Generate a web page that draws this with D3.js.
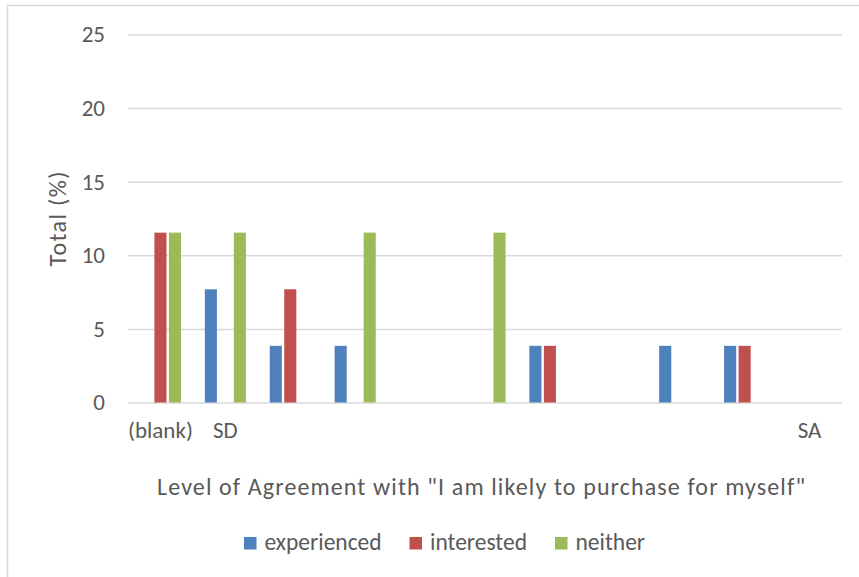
<!DOCTYPE html>
<html>
<head>
<meta charset="utf-8">
<script src="https://cdn.jsdelivr.net/npm/d3@7"></script>
<style>
  html, body { margin: 0; padding: 0; background: #fff; }
  svg { display: block; }
  text { font-family: Carlito, Calibri, Lato, "Open Sans", sans-serif; fill: #595959; }
</style>
</head>
<body>
<svg id="chart" width="859" height="577"></svg>
<script>
// Agreement levels along the x axis; only the ends carry a printed label
const tickLabels = ["(blank)", "SD", "", "", "", "", "", "", "", "", "SA"];
const seriesNames = ["experienced", "interested", "neither"];
const seriesColors = ["#4f81bd", "#c0504d", "#9bbb59"];

// Share of respondents (%) per agreement level
const experienced = [0, 7.69, 3.85, 3.85, 0, 0, 3.85, 0, 3.85, 3.85, 0];
const interested  = [11.54, 0, 7.69, 0, 0, 0, 3.85, 0, 0, 3.85, 0];
const neither     = [11.54, 11.54, 0, 11.54, 0, 11.54, 0, 0, 0, 0, 0];

const yTicks = [0, 5, 10, 15, 20, 25];

const seriesValues = [experienced, interested, neither];

const svg = d3.select("#chart");
const plot = { left: 128, right: 842, top: 34.5, bottom: 402.5 };
const fontFamily = "Carlito, Calibri, Lato, sans-serif";

// chart frame
svg.append("rect")
  .attr("x", 7.5).attr("y", 5.5)
  .attr("width", 1000).attr("height", 1000)
  .attr("fill", "none").attr("stroke", "#d9d9d9").attr("stroke-width", 1.5);

const x = d3.scaleBand()
  .domain(d3.range(tickLabels.length))
  .range([plot.left, plot.right])
  .paddingInner(0).paddingOuter(0);

const y = d3.scaleLinear().domain([0, 25]).range([plot.bottom, plot.top]);

// three bars per cluster, 14.5px apart
const xs = d3.scaleBand()
  .domain(d3.range(seriesNames.length))
  .range([0, 3 * 14.5]);

// gridlines + y tick labels
const yAxis = d3.axisLeft(y).tickValues(yTicks).tickSize(-(plot.right - plot.left)).tickPadding(23);
const gy = svg.append("g").attr("transform", `translate(${plot.left},0)`).call(yAxis);
gy.select(".domain").remove();
gy.selectAll(".tick line").attr("stroke", "#d9d9d9").attr("stroke-width", 1.5);
gy.selectAll(".tick text").attr("font-size", 23).attr("fill", "#595959")
  .style("font-family", fontFamily);

// bars
seriesValues.forEach((vals, s) => {
  svg.append("g").selectAll("rect")
    .data(vals.map((v, i) => ({ v, i })).filter(d => d.v > 0))
    .join("rect")
    .attr("x", d => x(d.i) + x.bandwidth() / 2 - 21.75 + xs(s) + 1.2)
    .attr("width", xs.bandwidth() - 2.4)
    .attr("y", d => y(d.v))
    .attr("height", d => y(0) - y(d.v))
    .attr("fill", seriesColors[s]);
});

// x axis
const xAxis = d3.axisBottom(x).tickFormat(i => tickLabels[i]).tickSize(0).tickPadding(19);
const gx = svg.append("g").attr("transform", `translate(0,${plot.bottom})`).call(xAxis);
gx.select(".domain").remove();
gx.selectAll(".tick text").attr("font-size", 23).attr("fill", "#595959")
  .style("font-family", fontFamily);

// axis titles
svg.append("text")
  .attr("x", 481).attr("y", 495)
  .attr("text-anchor", "middle").attr("font-size", 24)
  .attr("textLength", 648).attr("lengthAdjust", "spacing")
  .text('Level of Agreement with "I am likely to purchase for myself"');

svg.append("text")
  .attr("transform", "translate(66,219) rotate(-90)")
  .attr("text-anchor", "middle").attr("font-size", 24)
  .attr("textLength", 95).attr("lengthAdjust", "spacing")
  .text("Total (%)");

// legend
const legendX = [244, 409.5, 555];
const lg = svg.append("g");
seriesNames.forEach((name, s) => {
  lg.append("rect").attr("x", legendX[s]).attr("y", 537).attr("width", 12.5).attr("height", 12.5)
    .attr("fill", seriesColors[s]);
  lg.append("text").attr("x", legendX[s] + 20.5).attr("y", 550).attr("font-size", 23.5).text(name);
});
</script>
</body>
</html>
